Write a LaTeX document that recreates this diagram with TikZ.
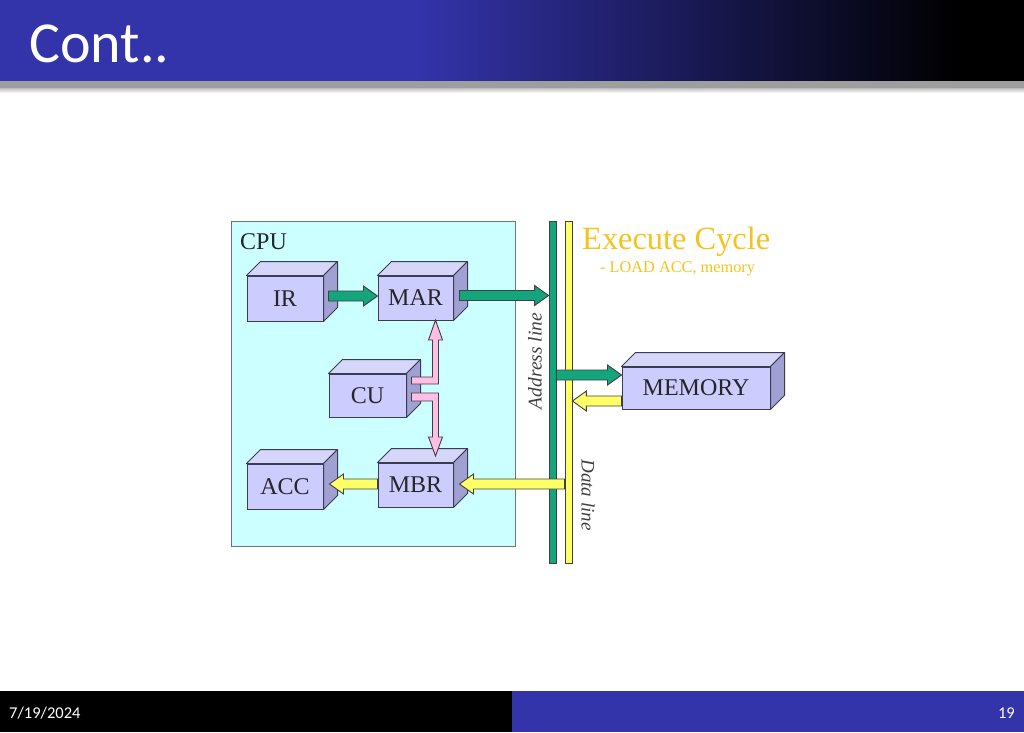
\documentclass[tikz,border=0pt]{standalone}
\usepackage{fontspec}
\setmainfont{Liberation Serif}
\newfontfamily\calib{Carlito}
\usetikzlibrary{calc}
\definecolor{hdrblue}{RGB}{51,51,170}
\definecolor{cpubg}{RGB}{204,255,255}
\definecolor{boxfront}{RGB}{204,204,255}
\definecolor{boxtop}{RGB}{214,214,250}
\definecolor{boxside}{RGB}{160,160,210}
\definecolor{boxline}{RGB}{60,60,80}
\definecolor{busgreen}{RGB}{20,165,125}
\definecolor{busyellow}{RGB}{255,255,102}
\definecolor{pinkarrow}{RGB}{255,190,230}
\definecolor{gold}{RGB}{245,195,30}
\tikzset{
  front/.style={draw=boxline, fill=boxfront, line width=1pt, inner sep=0pt, font=\fontsize{24}{26}\selectfont, text=black!85},
  topface/.style={draw=boxline, fill=boxtop, line width=1pt, line join=round},
  sideface/.style={draw=boxline, fill=boxside, line width=1pt, line join=round},
  garrow/.style={draw=black!75, fill=busgreen, line width=0.9pt, line join=miter},
  yarrow/.style={draw=black!75, fill=busyellow, line width=0.9pt, line join=miter},
  parrow/.style={draw=black!75, fill=pinkarrow, line width=0.9pt, line join=miter},
  busbar/.style={draw=black!75, line width=0.8pt, minimum width=7pt, minimum height=342pt, inner sep=0pt},
}
\newcommand\cubebox[6]{%
  \node[front, minimum width=#4pt, minimum height=#5pt] (#1) at (#2,#3) {#6};
  \draw[topface] (#1.north west) -- ++(14pt,14pt) -- ($(#1.north east)+(14pt,14pt)$) -- (#1.north east) -- cycle;
  \draw[sideface] (#1.north east) -- ++(14pt,14pt) -- ($(#1.south east)+(14pt,14pt)$) -- (#1.south east) -- cycle;}
\newcommand\fatarrow[3]{%
  \draw[#1] let \p1=(#2), \p2=(#3), \n1={atan2(\y2-\y1,\x2-\x1)}, \n2={veclen(\x2-\x1,\y2-\y1)-14pt} in
    ($(\p1)+(\n1+90:5pt)$) -- ($(\p1)+(\n1:{\n2*1pt})+(\n1+90:5pt)$) -- ($(\p1)+(\n1:{\n2*1pt})+(\n1+90:10pt)$)
    -- (\p2) -- ($(\p1)+(\n1:{\n2*1pt})+(\n1-90:10pt)$) -- ($(\p1)+(\n1:{\n2*1pt})+(\n1-90:5pt)$)
    -- ($(\p1)+(\n1-90:5pt)$) -- cycle;}
\begin{document}
\begin{tikzpicture}[x=1pt,y=-1pt]
\useasboundingbox (0,0) rectangle (1024,732);
\fill[white] (0,0) rectangle (1024,732);
% header
\fill[hdrblue] (0,0) rectangle (420,81);
\shade[left color=hdrblue, right color=black] (419,0) rectangle (958,81);
\fill[black] (957,0) rectangle (1024,81);
\fill[black!38] (0,81) rectangle (1024,88);
\shade[top color=black!25, bottom color=white] (0,88) rectangle (1024,93);
\node[anchor=base west, text=white, font=\calib\fontsize{58}{60}\selectfont, inner sep=0pt] (title) at (29,62) {Cont..};
% footer
\fill[black] (0,691) rectangle (512,732);
\fill[hdrblue] (512,691) rectangle (1024,732);
\node[anchor=base west, text=white, font=\calib\fontsize{16.5}{18}\selectfont, inner sep=0pt] (date) at (9,718) {7/19/2024};
\node[anchor=base east, text=white, font=\calib\fontsize{16.5}{18}\selectfont, inner sep=0pt] (page) at (1015,718) {19};
% CPU
\node[draw=black!55, fill=cpubg, line width=1pt, minimum width=284pt, minimum height=325pt, inner sep=0pt] (cpu) at (373,383.5) {};
\node[anchor=west, font=\fontsize{24}{26}\selectfont, inner sep=0pt, text=black!85] (cpulabel) at (240,242) {CPU};
\cubebox{IR}{285}{298.5}{76}{45}{IR}
\cubebox{MAR}{415.5}{298}{75}{44}{MAR}
\cubebox{CU}{367.5}{395.5}{77}{43}{CU}
\cubebox{MBR}{415.5}{485}{75}{44}{MBR}
\cubebox{ACC}{285}{486.5}{76}{45}{ACC}
\cubebox{MEMORY}{696}{388}{148}{42}{MEMORY}
% buses
\node[busbar, fill=busgreen] (abus) at (552.5,392) {};
\node[busbar, fill=busyellow] (ybus) at (568.5,392) {};
\node[rotate=90, font=\itshape\fontsize{19.5}{21}\selectfont, text=black!75, inner sep=0pt] (alabel) at (535,361) {Address line};
\node[rotate=-90, font=\itshape\fontsize{19}{21}\selectfont, text=black!75, inner sep=0pt] (dlabel) at (588,495) {Data line};
% titles
\node[anchor=west, text=gold, font=\fontsize{32.4}{34}\selectfont, inner sep=0pt] (exec) at (582,242) {Execute Cycle};
\node[anchor=west, text=gold, font=\fontsize{16.3}{18}\selectfont, inner sep=0pt] (sub) at (600,269) {- LOAD ACC, memory};
% arrows
\fatarrow{garrow}{$(IR.east)+(5,-2.5)$}{$(MAR.west)+(0,-2)$}
\fatarrow{garrow}{$(MAR.east)+(6,-2.5)$}{$(MAR.east -| abus.west)+(0,-2.5)$}
\fatarrow{garrow}{$(MEMORY.west -| abus.east)+(0,-13)$}{$(MEMORY.west)+(0,-13)$}
\fatarrow{yarrow}{$(MEMORY.west)+(0,13)$}{$(MEMORY.west -| ybus.east)+(0,13)$}
\fatarrow{yarrow}{$(MBR.east -| ybus.west)+(0,-1)$}{$(MBR.east)+(6,-1)$}
\fatarrow{yarrow}{$(MBR.west)+(0,-1)$}{$(ACC.east)+(6,-2.5)$}
% pink control arrows
\begin{scope}[shift={(CU.east)}]
\draw[parrow] (5,-18.5) -- (26,-18.5) -- (26,-55.5) -- (22,-55.5) -- (29,-75.5) -- (36,-55.5) -- (32,-55.5) -- (32,-11.5) -- (5,-11.5) -- cycle;
\draw[parrow] (5,-2.5) -- (32,-2.5) -- (32,41.5) -- (36,41.5) -- (29,60.5) -- (22,41.5) -- (26,41.5) -- (26,5.5) -- (5,5.5) -- cycle;
\end{scope}
\end{tikzpicture}
\end{document}
